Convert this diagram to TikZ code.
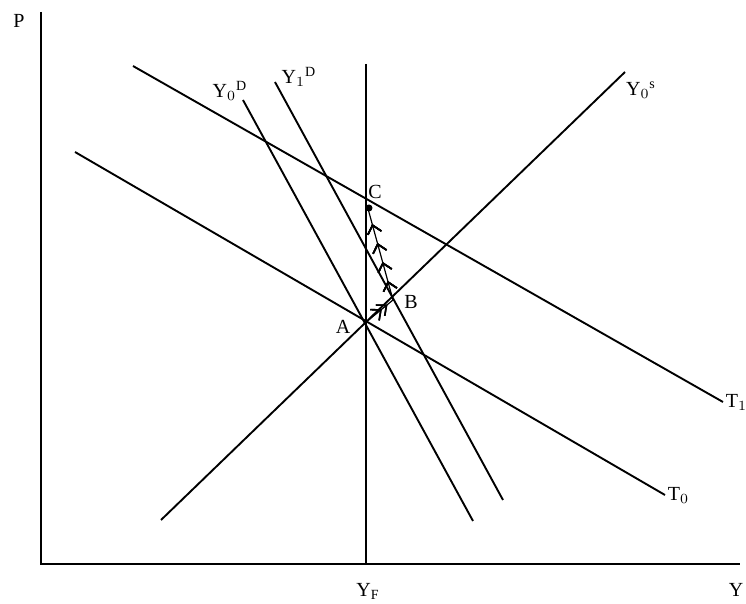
\documentclass[tikz,border=0pt]{standalone}
\usepackage{fontspec}
\setmainfont{Liberation Serif}
\usetikzlibrary{arrows.meta,decorations.markings}

\begin{document}
\begin{tikzpicture}[x=0.5pt,y=-0.5pt,
    curve/.style={line width=0.95pt},
    axis/.style={line width=1pt},
    lbl/.style={inner sep=1pt},
    chevron/.style={decoration={markings,
      mark=at position #1 with {\arrow{Straight Barb[length=4pt,width=7pt,line width=0.8pt]}}},
      postaction={decorate}}]
    \useasboundingbox (0,0) rectangle (746,604);

    % axes
    \coordinate (orig) at (41,564);
    \coordinate (ptop) at (41,12);
    \coordinate (yend) at (740,564);
    \draw[axis] (ptop) -- (orig) -- (yend);
    \node[lbl] (labP) at (19,21) {P};
    \node[lbl] (labY) at (736,590) {Y};

    % full employment output
    \coordinate (yftop) at (366,64);
    \coordinate (yfbot) at (366,564);
    \draw[curve] (yftop) -- (yfbot);
    \node[lbl] (labYF) at (368,591) {Y$_\mathrm{F}$};

    % equilibrium points
    \coordinate (ptA) at (365,323);
    \coordinate (ptB) at (393,300);
    \coordinate (ptC) at (367,205);

    % tax lines
    \coordinate (t1s) at (133,66);
    \coordinate (t1e) at (723,402);
    \draw[curve] (t1s) -- (t1e) node[lbl,anchor=west] (labT1) {T$_1$};
    \coordinate (t0s) at (75,152);
    \coordinate (t0e) at (665,495);
    \draw[curve] (t0s) -- (t0e) node[lbl,anchor=west] (labT0) {T$_0$};

    % supply
    \coordinate (ss) at (161,520);
    \coordinate (se) at (625,72);
    \draw[curve] (ss) -- (se);
    \node[lbl] (labYS) at (641,90) {Y$_0$$^{\mathrm{s}}$};

    % demand
    \coordinate (d0s) at (243,100);
    \coordinate (d0e) at (473,521);
    \draw[curve] (d0s) -- (d0e);
    \node[lbl] (labD0) at (230,91) {Y$_0$$^{\mathrm{D}}$};
    \coordinate (d1s) at (275,82);
    \coordinate (d1e) at (503,500);
    \draw[curve] (d1s) -- (d1e);
    \node[lbl] (labD1) at (299,77) {Y$_1$$^{\mathrm{D}}$};

    % adjustment path
    \draw[line width=0.6pt,chevron=0.6,chevron=0.8] (ptA) -- (ptB);
    \draw[line width=0.6pt,chevron=0.2,chevron=0.4,chevron=0.6,chevron=0.8] (ptB) -- (ptC);
    \fill (ptC) ++(2,3) circle (3.5);

    \node[lbl] (labA) at (343,327) {A};
    \node[lbl] (labB) at (411,302) {B};
    \node[lbl] (labC) at (375,192) {C};
\end{tikzpicture}
\end{document}
